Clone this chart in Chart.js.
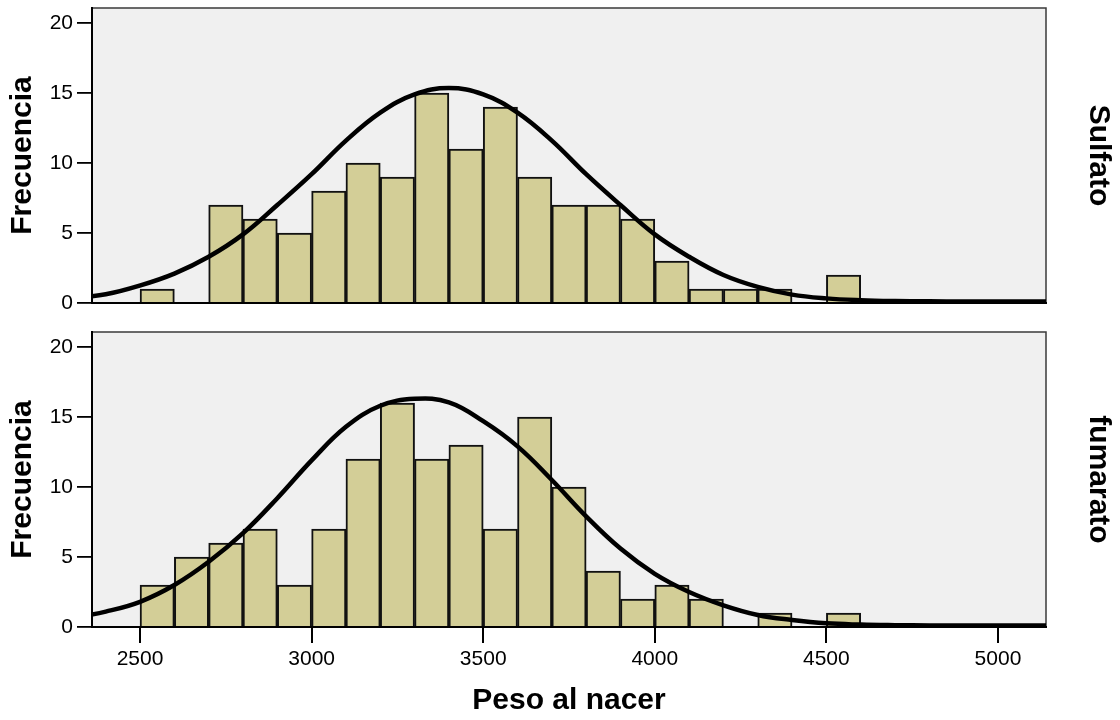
<!DOCTYPE html>
<html>
<head>
<meta charset="utf-8">
<script src="https://cdn.jsdelivr.net/npm/chart.js@4.4.1/dist/chart.umd.min.js"></script>
<style>
html, body { margin: 0; padding: 0; background: #ffffff; }
#wrap { position: relative; width: 1120px; height: 720px; }
.box { position: absolute; left: 0; width: 1120px; }
#b1 { top: 0; height: 320px; }
#b2 { top: 320px; height: 400px; }
</style>
</head>
<body>
<div id="wrap">
  <div class="box" id="b1"><canvas id="c1"></canvas></div>
  <div class="box" id="b2"><canvas id="c2"></canvas></div>
</div>
<script>
// ---- data ----
const binStarts = [2500, 2600, 2700, 2800, 2900, 3000, 3100, 3200, 3300, 3400, 3500,
                   3600, 3700, 3800, 3900, 4000, 4100, 4200, 4300, 4400, 4500];
const binWidth = 100;
const sulfatoCounts  = [1, 0, 7, 6, 5, 8, 10, 9, 15, 11, 14, 9, 7, 7, 6, 3, 1, 1, 1, 0, 2];
const fumaratoCounts = [3, 5, 6, 7, 3, 7, 12, 16, 12, 13, 7, 15, 10, 4, 2, 3, 2, 0, 1, 0, 1];

// normal curve (x in grams)
const curveX = [2300, 2400, 2500, 2600, 2700, 2800, 2900, 3000, 3100, 3200, 3300, 3400, 3500,
                3600, 3700, 3800, 3900, 4000, 4100, 4200, 4300, 4400, 4500, 4600, 4700, 4800,
                4900, 5000, 5100, 5200];
const sulfatoCurve  = [0.32, 0.62, 1.25, 2.1, 3.3, 4.9, 7.0, 9.2, 11.6, 13.6, 14.9, 15.35, 14.9,
                       13.6, 11.6, 9.2, 7.0, 4.9, 3.3, 2.0, 1.15, 0.6, 0.33, 0.2, 0.14, 0.12,
                       0.1, 0.1, 0.1, 0.1];
const fumaratoCurve = [0.62, 1.1, 1.8, 3.0, 4.66, 6.7, 9.2, 11.9, 14.3, 15.8, 16.3, 16.05, 14.7,
                       12.9, 10.5, 7.9, 5.6, 3.8, 2.5, 1.55, 0.86, 0.5, 0.26, 0.17, 0.13, 0.11,
                       0.1, 0.1, 0.1, 0.1];

const xTickValues = [2500, 3000, 3500, 4000, 4500, 5000];
const yTickValues = [0, 5, 10, 15, 20];
const panelLabels = ['Sulfato', 'fumarato'];
const xTitle = 'Peso al nacer';
const yTitle = 'Frecuencia';

// ---- styling ----
const FONT = "'Liberation Sans', Arial, Helvetica, sans-serif";
Chart.defaults.font.family = FONT;
Chart.defaults.color = '#000';

const framePlugin = {
  id: 'frame',
  beforeDraw(chart) {
    const { ctx, chartArea: a } = chart;
    ctx.save();
    ctx.fillStyle = '#f0f0f0';
    ctx.fillRect(a.left, a.top, a.right - a.left, a.bottom - a.top);
    ctx.strokeStyle = '#3a3a3a';
    ctx.lineWidth = 1.5;
    ctx.strokeRect(a.left, a.top, a.right - a.left, a.bottom - a.top);
    ctx.restore();
  }
};

function makeChart(id, counts, curve, label, isBottom) {
  return new Chart(document.getElementById(id), {
    type: 'bar',
    data: {
      datasets: [
        {
          type: 'line',
          data: curveX.map((x, i) => ({ x: x, y: curve[i] })),
          borderColor: '#000',
          borderWidth: 4.5,
          pointRadius: 0,
          fill: false,
          tension: 0.4,
          clip: { left: 0, right: 0, top: 10, bottom: 2 },
          order: 0
        },
        {
          type: 'bar',
          data: binStarts.map((s, i) => ({ x: s + binWidth / 2, y: counts[i] })),
          backgroundColor: '#d3ce97',
          borderColor: '#111',
          borderWidth: 2,
          barPercentage: 1,
          categoryPercentage: 1,
          order: 1
        }
      ]
    },
    options: {
      responsive: true,
      maintainAspectRatio: false,
      animation: false,
      events: [],
      layout: { padding: { top: isBottom ? 12 : 8, left: 0, right: 0, bottom: 0 } },
      plugins: { legend: { display: false }, tooltip: { enabled: false } },
      scales: {
        x: {
          type: 'linear',
          min: 2360,
          max: 5140,
          offset: false,
          afterBuildTicks: s => { s.ticks = xTickValues.map(v => ({ value: v })); },
          afterFit: s => { s.height = isBottom ? 93 : 17; s.paddingLeft = 0; s.paddingRight = 0; },
          ticks: { display: isBottom, color: '#000', font: { size: 21 }, padding: 4,
                   maxRotation: 0, autoSkip: false, callback: v => String(v) },
          grid: { display: isBottom, offset: false, drawOnChartArea: false, drawTicks: true,
                  tickLength: 16, color: '#000', lineWidth: 2 },
          border: { display: true, color: '#000', width: 2 },
          title: { display: isBottom, text: xTitle, color: '#000',
                   font: { size: 30, weight: 'bold' }, padding: { top: 0, bottom: 1 } }
        },
        y: {
          position: 'left',
          min: 0,
          max: 21.07,
          afterBuildTicks: s => { s.ticks = yTickValues.map(v => ({ value: v })); },
          afterFit: s => { s.width = 92; s.paddingTop = 0; s.paddingBottom = 0; },
          ticks: { color: '#000', font: { size: 21 }, padding: 4, callback: v => String(v) },
          grid: { display: true, offset: false, drawOnChartArea: false, drawTicks: true,
                  tickLength: 15, color: '#000', lineWidth: 1.8 },
          border: { display: true, color: '#000', width: 2 },
          title: { display: true, text: yTitle, color: '#000',
                   font: { size: 30, weight: 'bold' }, padding: { top: 5, bottom: 0 } }
        },
        yR: {
          position: 'right',
          min: 0,
          max: 21.07,
          afterFit: s => { s.width = 74; s.paddingTop = 0; s.paddingBottom = 0; },
          ticks: { display: false },
          grid: { display: false },
          border: { display: false },
          title: { display: true, text: label, color: '#000',
                   font: { size: 30, weight: 'bold' }, padding: { top: 4, bottom: 0 } }
        }
      }
    },
    plugins: [framePlugin]
  });
}

makeChart('c1', sulfatoCounts, sulfatoCurve, panelLabels[0], false);
makeChart('c2', fumaratoCounts, fumaratoCurve, panelLabels[1], true);
</script>
</body>
</html>
